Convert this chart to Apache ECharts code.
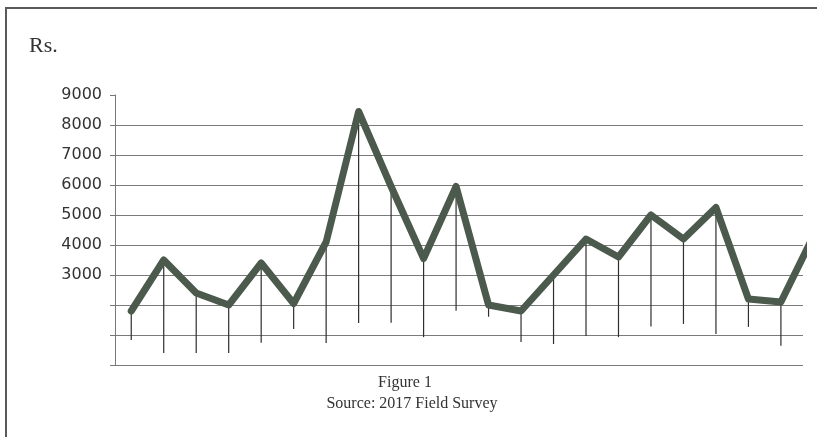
<!DOCTYPE html>
<html>
<head>
<meta charset="utf-8">
<script src="https://cdn.jsdelivr.net/npm/echarts@6/dist/echarts.min.js"></script>
<style>
  html, body { margin: 0; padding: 0; background: #fff; }
  #chart { width: 817px; height: 437px; }
</style>
</head>
<body>
<div id="chart"></div>
<script>
// observation index along the x axis (last point runs off the plot edge)
const positions = [0, 1, 2, 3, 4, 5, 6, 7, 8, 9, 10, 11, 12, 13, 14, 15, 16, 17, 18, 19, 20, 21];
// main line values (Rs.)
const amounts = [1800, 3500, 2400, 2000, 3400, 2050, 4100, 8450, 5950, 3550, 5950,
                 2000, 1800, 3000, 4200, 3600, 5000, 4200, 5250, 2200, 2100, 4300];
// lower end of the vertical drop lines
const lows = [830, 400, 400, 400, 740, 1200, 730, 1400, 1410, 930, 1810,
              1610, 770, 700, 970, 930, 1280, 1370, 1030, 1270, 640, null];
const yTicks = [0, 1000, 2000, 3000, 4000, 5000, 6000, 7000, 8000, 9000];

const chart = echarts.init(document.getElementById("chart"));

const dropData = positions
    .map((p, i) => [p, amounts[i], lows[i]])
    .filter((d) => d[2] !== null);

// gridlines at every tick except the top one (9000 only has a tick)
const gridColors = yTicks.map((t) => (t === 9000 ? "transparent" : "#7a7a7a"));

const option = {
    animation: false,
    grid: { left: 115, right: 14, top: 95, bottom: 72 },
    xAxis: {
        type: "value",
        min: -0.5,
        max: 20.68,
        show: false,
    },
    yAxis: {
        type: "value",
        min: 0,
        max: 9000,
        interval: 1000,
        axisLine: { show: true, onZero: false, lineStyle: { color: "#777", width: 1 } },
        axisTick: { show: true, length: 5, lineStyle: { color: "#777" } },
        axisLabel: {
            margin: 13,
            fontFamily: "DejaVu Sans",
            fontSize: 16,
            color: "#333",
            formatter: (v) => (v >= 3000 ? String(v) : ""),
        },
        splitLine: { show: true, lineStyle: { color: gridColors, width: 1 } },
    },
    graphic: [
        { type: "line", shape: { x1: 5, y1: 8, x2: 817, y2: 8 }, style: { stroke: "#5a5a5a", lineWidth: 2 } },
        { type: "line", shape: { x1: 6, y1: 8, x2: 6, y2: 437 }, style: { stroke: "#5a5a5a", lineWidth: 2 } },
        {
            type: "text", left: 29, top: 35,
            style: { text: "Rs.", fontFamily: "Liberation Serif", fontSize: 22, fill: "#333" },
        },
        {
            type: "text", x: 405, y: 383,
            style: { text: "Figure 1", fontFamily: "Liberation Serif", fontSize: 16, fill: "#333",
                     textAlign: "center", textVerticalAlign: "middle" },
        },
        {
            type: "text", x: 412, y: 404,
            style: { text: "Source: 2017 Field Survey", fontFamily: "Liberation Serif", fontSize: 16, fill: "#333",
                     textAlign: "center", textVerticalAlign: "middle" },
        },
    ],
    series: [
        {
            type: "custom",
            z: 2,
            data: dropData,
            renderItem: (params, api) => {
                const top = api.coord([api.value(0), api.value(1)]);
                const bottom = api.coord([api.value(0), api.value(2)]);
                return {
                    type: "line",
                    shape: { x1: top[0], y1: top[1], x2: bottom[0], y2: bottom[1] },
                    style: { stroke: "#2e2e2e", lineWidth: 1.2 },
                };
            },
        },
        {
            type: "line",
            z: 3,
            data: positions.map((p, i) => [p, amounts[i]]),
            symbol: "none",
            clip: true,
            lineStyle: { color: "#4b5a4c", width: 7, cap: "round", join: "round" },
        },
    ],
};

chart.setOption(option);
</script>
</body>
</html>
